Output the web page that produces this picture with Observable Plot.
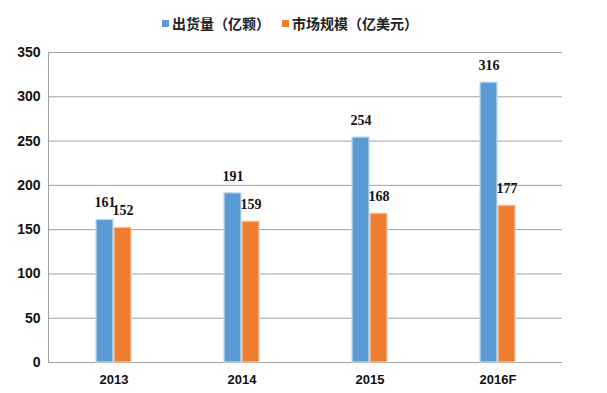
<!DOCTYPE html>
<html><head><meta charset="utf-8">
<script src="https://cdn.jsdelivr.net/npm/d3@7"></script>
<script src="https://cdn.jsdelivr.net/npm/@observablehq/plot@0.6"></script>
<style>
body{margin:0;background:#fff;width:607px;height:393px;overflow:hidden}
#legend{height:40px;position:relative;font-family:"Noto Sans CJK SC",sans-serif;font-weight:bold;font-size:14px;color:#222}
.item{position:absolute;top:13px;height:20px;line-height:20px;display:flex;align-items:center;white-space:nowrap}
.sw{width:7px;height:7px;margin-right:3px}
</style></head><body>
<div id="legend"></div>
<div id="chart"></div>
<script>
const years = ["2013", "2014", "2015", "2016F"];
const shipments = [161, 191, 254, 316];
const marketSize = [152, 159, 168, 177];
const seriesNames = ["出货量（亿颗）", "市场规模（亿美元）"];
const colors = ["#5B9BD5", "#ED7D31"];
const yTicks = [0, 50, 100, 150, 200, 250, 300, 350];

const blue = years.map((y, i) => ({year: y, value: shipments[i]}));
const orange = years.map((y, i) => ({year: y, value: marketSize[i]}));

// legend
const legend = document.getElementById("legend");
const legendLeft = [162, 282];
seriesNames.forEach((n, i) => {
  const d = document.createElement("div");
  d.className = "item";
  d.style.left = legendLeft[i] + "px";
  d.innerHTML = `<span class="sw" style="background:${colors[i]}"></span><span>${n}</span>`;
  legend.appendChild(d);
});

const chart = Plot.plot({
  width: 607,
  height: 353,
  marginLeft: 48,
  marginRight: 45,
  marginTop: 12,
  marginBottom: 31,
  style: {fontFamily: "'Liberation Sans', Arial, sans-serif", color: "#111", background: "#fff"},
  x: {domain: years, paddingInner: 0.868, paddingOuter: 0.434, label: null},
  y: {domain: [0, 350], label: null},
  marks: [
    Plot.gridY(yTicks, {stroke: "#a0a0a0", strokeOpacity: 1}),
    Plot.frame({anchor: "left", stroke: "#a0a0a0"}),
    Plot.ruleY([0], {stroke: "#a0a0a0"}),
    Plot.barY(blue, {x: "year", y: "value", fill: colors[0], stroke: "#c2daf1", strokeWidth: 1.2, dx: -9}),
    Plot.barY(orange, {x: "year", y: "value", fill: colors[1], stroke: "#f7c9a6", strokeWidth: 1.2, dx: 9}),
    Plot.text(blue, {x: "year", y: "value", text: "value", dx: -9, dy: -17, fontFamily: "'Liberation Serif', serif", fontWeight: "bold", fontSize: 14, fill: "#111"}),
    Plot.text(orange, {x: "year", y: "value", text: "value", dx: 9, dy: -17, fontFamily: "'Liberation Serif', serif", fontWeight: "bold", fontSize: 14, fill: "#111"}),
    Plot.axisY({ticks: yTicks, tickSize: 0, tickPadding: 8, fontSize: 14, fontWeight: "bold", label: null}),
    Plot.axisX({tickSize: 0, tickPadding: 12, fontSize: 13, fontWeight: "bold", label: null})
  ]
});
document.getElementById("chart").appendChild(chart);
</script>
</body></html>
